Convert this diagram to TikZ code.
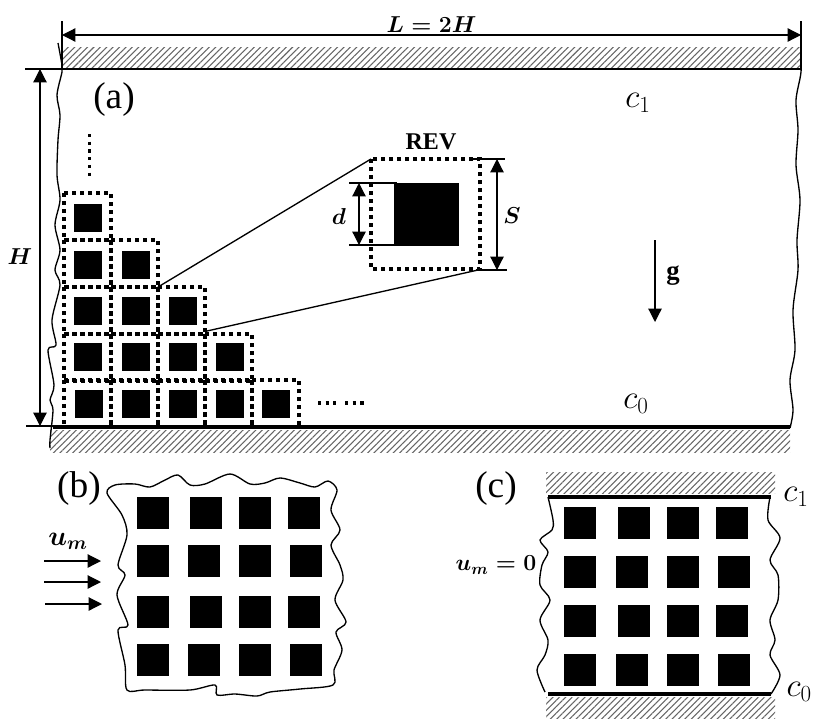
\documentclass[tikz,border=0pt]{standalone}
\usepackage{amsmath}
\usepackage[no-math]{fontspec}
\setmainfont{Liberation Serif}
\usetikzlibrary{arrows.meta}
\usetikzlibrary{patterns.meta}
\usetikzlibrary{positioning}

\tikzset{
  wallhatch/.style={draw=none, pattern={Lines[angle=45,distance=3.4pt,line width=0.8pt]}, pattern color=black!60},
  wallline/.style={line width=2.4pt},
  wavyline/.style={line width=1pt},
  revbox/.style={line width=2.6pt, dash pattern=on 3pt off 3pt},
  dotline/.style={line width=2.6pt, dash pattern=on 2.4pt off 3.4pt},
  dimline/.style={line width=0.9pt},
  dimarrow/.style={line width=0.9pt, {Triangle[length=10pt,width=10pt]}-{Triangle[length=10pt,width=10pt]}},
  flowarrow/.style={line width=0.9pt, -{Triangle[length=10pt,width=10pt]}},
  panellabel/.style={font=\fontsize{28}{30}\selectfont},
  boldlabel/.style={font=\fontsize{18}{20}\selectfont\boldmath},
  conclabel/.style={font=\fontsize{25}{28}\selectfont},
}

\begin{document}
\begin{tikzpicture}[x=0.75pt,y=-0.75pt]
\useasboundingbox (0,0) rectangle (813,718);

% panel a
\fill[wallhatch] (63,47) rectangle (801,68);
\fill[wallhatch] (50,430) rectangle (790,452);
\draw[line width=1.2pt] (62,69) -- (801,69);
\draw[wallline] (53,427) -- (790,427);

\draw[wavyline] plot[smooth] coordinates {(58,43) (62,65) (62,72) (57,95) (60,115) (58,140) (57,175) (60,200) (55,225) (60,250) (55,270) (60,285) (52,320) (56,345) (48,350) (54,385) (50,400) (53,410) (50,440) (50,448)};
\draw[wavyline] plot[smooth] coordinates {(801,45) (801,72) (796,100) (798,130) (796,165) (800,200) (797,240) (798,270) (793,310) (795,350) (790,380) (793,410) (790,428)};

\coordinate (Ltop) at (62,21);
\coordinate (Lbot) at (62,69);
\coordinate (Rtop) at (801,21);
\coordinate (Rbot) at (801,70);
\coordinate (Lmid) at (62,35);
\coordinate (Rmid) at (801,35);
\draw[dimline] (Ltop) -- (Lbot);
\draw[dimline] (Rtop) -- (Rbot);
\draw[dimarrow] (Lmid) -- node[above=-2pt, boldlabel] (lenlabel) {$L=2H$} (Rmid);

\coordinate (Htop) at (25,69);
\coordinate (Hbot) at (26,426);
\coordinate (Hup) at (40,69);
\coordinate (Hdown) at (40,426);
\draw[dimline] (Htop) -- (62,69);
\draw[dimline] (Hbot) -- (53,426);
\draw[dimarrow] (Hup) -- (Hdown);
\node[boldlabel] (heightlabel) at (20,257) {$H$};

\node[panellabel] (panela) at (114,100) {(a)};
\node[conclabel] (cone) at (638,103) {$c_1$};
\node[conclabel] (czero) at (636,404) {$c_0$};

\draw[dotline] (89.5,134) -- (89.5,178);
\draw[dotline] (318,403) -- (336,403);
\draw[dotline] (345,403) -- (364,403);

\foreach \x/\y in {64/193, 64/240, 111/240, 64/287, 111/287, 158/287, 64/334, 111/334, 158/334, 205/334, 64/380, 111/380, 158/380, 205/380, 252/380}
{
\draw[revbox] (\x,\y) rectangle ++(47,47);
}
\foreach \x/\y in {74/204, 74/251, 122/251, 74/297, 122/297, 169/297, 74/343, 122/343, 169/343, 216/343, 75/390, 122/390, 169/390, 216/390, 262/390}
{
\fill[black] (\x,\y) rectangle ++(27.5,27.5);
}

% zoomed cell
\draw[revbox] (371,159) rectangle (480,269);
\fill[black] (394,183) rectangle (459,246);
\node[font=\fontsize{18}{20}\selectfont\bfseries] (revlabel) at (431,142) {REV};

\coordinate (cellA) at (158,287);
\coordinate (cellB) at (207,331);
\coordinate (revA) at (371,159);
\coordinate (revB) at (478,270);
\draw[line width=1pt] (cellA) -- (revA);
\draw[line width=1pt] (cellB) -- (revB);

\draw[dimline] (349,183) -- (397,183);
\draw[dimline] (349,245) -- (394,245);
\draw[dimarrow] (359,183) -- (359,245);
\node[boldlabel] (dlabel) at (339,216) {$d$};

\draw[dimline] (472,159) -- (505,159);
\draw[dimline] (476,270) -- (507,270);
\draw[dimarrow] (497,159) -- (497,270);
\node[boldlabel] (slabel) at (512,216) {$S$};

\coordinate (gtop) at (655,240);
\coordinate (gbot) at (655,322);
\draw[flowarrow] (gtop) -- (gbot);
\node[font=\fontsize{20}{22}\selectfont\bfseries] (glabel) at (673,276) {g};

% panel b
\node[panellabel] (panelb) at (79,489) {(b)};
\draw[wavyline] plot[smooth cycle] coordinates {(107,493) (115,485) (135,484) (150,487) (165,480) (178,475) (190,485) (205,484) (230,474) (250,484) (265,483) (280,478) (300,483) (315,487) (328,481) (337,490) (331,510) (340,530) (331,545) (340,565) (343,580) (335,600) (346,622) (336,632) (342,650) (334,670) (333,685) (300,689) (270,692) (257,696) (235,694) (217,695) (215,685) (190,690) (145,690) (127,690) (125,665) (118,630) (128,625) (117,595) (125,575) (118,565) (127,535) (122,515)};
\foreach \x/\y in {137/497, 190/497, 239/497, 288/497, 137/545, 188/545, 239/545, 290/545, 137/596, 190/596, 239/596, 288/596, 137/644, 188/644, 239/644, 290/644}
{
\fill[black] (\x,\y) rectangle ++(31.5,31.5);
}
\node[font=\fontsize{20}{22}\selectfont\boldmath] (umlabel) at (68,541) {$u_m$};
\foreach \y/\xa in {561/44, 582/44, 604/45}
{
\coordinate (flowa) at (\xa,\y);
\coordinate (flowb) at (\xa+57,\y);
\draw[flowarrow] (flowa) -- (flowb);
}

% panel c
\node[panellabel] (panelc) at (496,489) {(c)};
\fill[wallhatch] (546,472) rectangle (775,493);
\fill[wallhatch] (546,697) rectangle (775,718);
\draw[wallline] (548,497) -- (771,497);
\draw[wallline] (548,694) -- (771,694);
\draw[wavyline] plot[smooth] coordinates {(548,497) (553,520) (552,530) (540,540) (548,552) (542,565) (540,585) (550,600) (540,620) (548,640) (545,655) (537,670) (545,692)};
\draw[wavyline] plot[smooth] coordinates {(770,497) (768,520) (780,538) (770,560) (778,575) (778,600) (770,620) (775,640) (770,655) (780,675) (771,694)};
\foreach \x/\y in {564/507, 618/507, 667/507, 716/507, 564/556, 616/556, 667/556, 718/556, 564/605, 618/605, 667/605, 716/605, 564/654, 616/654, 667/654, 718/654}
{
\fill[black] (\x,\y) rectangle ++(31.5,31.5);
}
\node[font=\fontsize{18}{20}\selectfont\boldmath] (umzero) at (496,565) {$u_m=0$};
\node[conclabel] (coneb) at (796,497) {$c_1$};
\node[conclabel, anchor=east, inner sep=0pt] (czerob) at (812,692) {$c_0$};

\end{tikzpicture}
\end{document}
